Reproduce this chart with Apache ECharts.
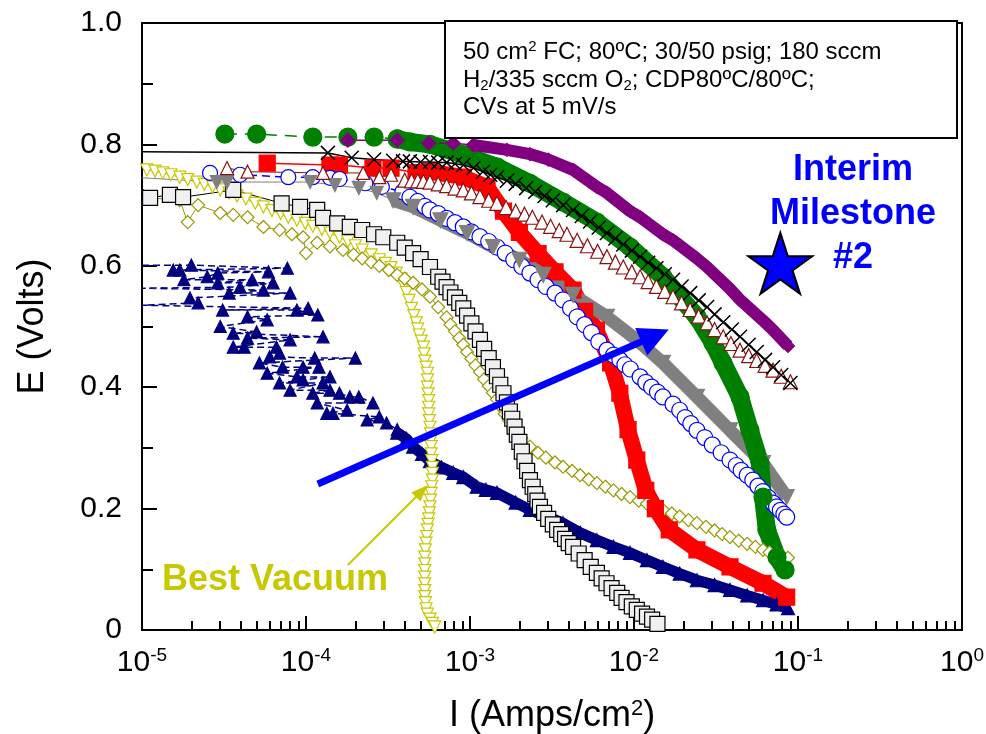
<!DOCTYPE html>
<html><head><meta charset="utf-8">
<script src="https://cdn.jsdelivr.net/npm/echarts@6/dist/echarts.min.js"></script>
<style>html,body{margin:0;padding:0;background:#fff}#c{width:986px;height:734px}</style>
</head><body><div id="c"></div>
<script>
// ---------- DATA: [current density (A/cm2), cell voltage (V)] ----------
const xTickExponents = [-5, -4, -3, -2, -1, 0];
const yTickLabels = ['0', '0.2', '0.4', '0.6', '0.8', '1.0'];

const navyScatter = [
  [1.0e-5,0.601],[1.0e-5,0.563],[1.0e-5,0.535],
  [1.55e-5,0.593],[1.7e-5,0.593],[2.0e-5,0.601],[1.8e-5,0.577],[2.5e-5,0.582],[2.9e-5,0.588],[2.9e-5,0.572],
  [3.4e-5,0.555],[3.96e-5,0.565],[4.7e-5,0.577],[5.9e-5,0.59],[7.7e-5,0.596],[6.3e-5,0.572],[5.5e-5,0.56],
  [8.0e-5,0.555],[1.96e-5,0.547],[2.2e-5,0.539],[3.1e-5,0.527],[4.4e-5,0.516],[5.8e-5,0.511],[8.8e-5,0.527],
  [1.03e-4,0.53],[1.18e-4,0.519],[3.0e-5,0.5],[3.6e-5,0.489],[4.4e-5,0.481],[5.0e-5,0.491],[3.6e-5,0.466],
  [4.2e-5,0.466],[6.6e-5,0.466],[8.0e-5,0.478],[1.27e-4,0.483],[5.2e-5,0.44],[6.0e-5,0.45],[6.9e-5,0.456],
  [7.2e-5,0.433],[9.6e-5,0.433],[1.13e-4,0.448],[1.2e-4,0.433],[2.0e-4,0.448],[5.8e-5,0.423],[6.9e-5,0.407],
  [8.0e-5,0.395],[8.8e-5,0.417],[9.6e-5,0.412],[1.1e-4,0.39],[1.27e-4,0.407],[1.4e-4,0.417],[1.4e-4,0.395],
  [1.6e-4,0.39],[1.85e-4,0.384],[2.1e-4,0.384],[2.56e-4,0.374],[1.17e-4,0.374],[1.34e-4,0.357],[1.46e-4,0.357],
  [1.78e-4,0.362],[2.36e-4,0.346],[2.8e-4,0.351],[3.1e-4,0.341],[3.6e-4,0.33]
];
const navyTail = [
  [3.6e-4,0.325],[4.1e-4,0.315],[4.5e-4,0.302],[5.1e-4,0.29],[5.7e-4,0.278],[6.7e-4,0.268],[7.9e-4,0.259],
  [9.1e-4,0.252],[1.1e-3,0.236],[1.25e-3,0.231],[1.46e-3,0.226],[1.9e-3,0.21],[2.32e-3,0.198],[3.0e-3,0.186],
  [3.69e-3,0.176],[4.7e-3,0.16],[5.94e-3,0.148],[7.5e-3,0.137],[9.46e-3,0.127],[0.012,0.115],[0.015,0.104],
  [0.019,0.093],[0.0242,0.082],[0.031,0.074],[0.0385,0.066],[0.049,0.057],[0.0612,0.049],[0.074,0.042],
  [0.0869,0.036]
];
const yellowTri = [
  [1.07e-5,0.758],[1.2e-5,0.756],[1.34e-5,0.753],[1.5e-5,0.75],[1.7e-5,0.746],[1.9e-5,0.742],[2.16e-5,0.738],
  [2.4e-5,0.734],[2.7e-5,0.73],[3.0e-5,0.725],[3.4e-5,0.72],[3.8e-5,0.715],[4.3e-5,0.71],[4.9e-5,0.703],
  [5.5e-5,0.697],[6.2e-5,0.691],[7.0e-5,0.686],[7.8e-5,0.68],[8.8e-5,0.675],[9.9e-5,0.67],[1.1e-4,0.665],
  [1.25e-4,0.66],[1.4e-4,0.654],[1.6e-4,0.647],[1.8e-4,0.64],[2.0e-4,0.633],[2.2e-4,0.626],[2.5e-4,0.618],
  [2.8e-4,0.61],[3.05e-4,0.604],[3.3e-4,0.597],[3.55e-4,0.588],[3.8e-4,0.578],[3.95e-4,0.567],[4.1e-4,0.556],
  [4.25e-4,0.543],[4.4e-4,0.53],[4.55e-4,0.518],[4.7e-4,0.506],[4.8e-4,0.496],[4.9e-4,0.486],[5.05e-4,0.476],
  [5.2e-4,0.466],[5.25e-4,0.455],[5.3e-4,0.443],[5.4e-4,0.433],[5.5e-4,0.423],[5.5e-4,0.412],[5.5e-4,0.4],
  [5.55e-4,0.389],[5.6e-4,0.378],[5.6e-4,0.367],[5.6e-4,0.356],[5.65e-4,0.345],[5.7e-4,0.334],[5.75e-4,0.323],
  [5.8e-4,0.313],[5.8e-4,0.302],[5.8e-4,0.29],[5.85e-4,0.279],[5.9e-4,0.268],[5.9e-4,0.258],[5.9e-4,0.247],
  [5.85e-4,0.236],[5.8e-4,0.225],[5.75e-4,0.214],[5.7e-4,0.203],[5.65e-4,0.193],[5.6e-4,0.183],[5.55e-4,0.174],
  [5.5e-4,0.165],[5.45e-4,0.154],[5.4e-4,0.143],[5.35e-4,0.132],[5.3e-4,0.12],[5.3e-4,0.109],[5.3e-4,0.098],
  [5.3e-4,0.087],[5.3e-4,0.076],[5.3e-4,0.065],[5.3e-4,0.055],[5.35e-4,0.045],[5.4e-4,0.035],[5.5e-4,0.026],
  [5.7e-4,0.018],[5.9e-4,0.011],[6.1e-4,0.005]
];
const oliveDiamond = [
  [1.1e-5,0.712],[1.7e-5,0.708],[1.9e-5,0.672],[2.2e-5,0.70],[3.0e-5,0.687],[3.6e-5,0.684],[4.4e-5,0.68],
  [5.5e-5,0.664],[6.9e-5,0.659],[8.2e-5,0.652],[9.6e-5,0.647],[1.0e-4,0.621],[1.17e-4,0.638],[1.4e-4,0.632],
  [1.68e-4,0.626],[1.95e-4,0.618],[2.2e-4,0.612],[2.5e-4,0.606],[2.8e-4,0.6],[3.2e-4,0.593],[3.6e-4,0.585],
  [4.0e-4,0.579],[4.5e-4,0.572],[5.1e-4,0.561],[5.7e-4,0.549],[6.4e-4,0.532],[7.2e-4,0.515],[7.6e-4,0.503],
  [8.1e-4,0.492],[8.6e-4,0.481],[9.1e-4,0.47],[9.6e-4,0.458],[1.02e-3,0.447],[1.08e-3,0.436],[1.15e-3,0.425],
  [1.22e-3,0.413],[1.3e-3,0.402],[1.38e-3,0.391],[1.46e-3,0.38],[1.54e-3,0.368],[1.63e-3,0.356],
  [1.73e-3,0.345],[1.83e-3,0.334],[2.05e-3,0.316],[2.32e-3,0.302],[2.6e-3,0.292],[2.9e-3,0.284],
  [3.3e-3,0.276],[3.69e-3,0.269],[4.2e-3,0.262],[4.7e-3,0.255],[5.3e-3,0.248],[5.94e-3,0.242],[6.7e-3,0.236],
  [7.5e-3,0.23],[8.4e-3,0.224],[9.46e-3,0.219],[0.0107,0.213],[0.012,0.208],[0.0134,0.203],[0.015,0.198],
  [0.017,0.192],[0.019,0.187],[0.0215,0.181],[0.0242,0.176],[0.0275,0.17],[0.031,0.164],[0.0345,0.158],
  [0.0385,0.153],[0.0435,0.147],[0.049,0.142],[0.055,0.137],[0.0612,0.132],[0.067,0.128],[0.074,0.125],
  [0.08,0.122],[0.0869,0.119]
];
const squareStart = [1.0e-5,0.728];
const blackSquare = [
  [1.12e-5,0.712],[1.48e-5,0.717],[1.78e-5,0.713],[3.6e-5,0.725],[7.1e-5,0.703],[9.2e-5,0.697],[1.17e-4,0.692],
  [1.27e-4,0.679],[1.55e-4,0.67],[1.85e-4,0.664],[2.2e-4,0.659],[2.6e-4,0.652],[2.96e-4,0.647],[3.6e-4,0.638],
  [4.0e-4,0.63],[4.5e-4,0.621],[5.0e-4,0.611],[5.7e-4,0.598],[6.4e-4,0.582],[6.8e-4,0.574],[7.2e-4,0.565],
  [7.6e-4,0.556],[8.1e-4,0.548],[8.6e-4,0.539],[9.1e-4,0.53],[9.6e-4,0.518],[1.02e-3,0.505],[1.08e-3,0.492],
  [1.15e-3,0.478],[1.22e-3,0.463],[1.3e-3,0.448],[1.38e-3,0.433],[1.46e-3,0.418],[1.53e-3,0.404],[1.6e-3,0.39],
  [1.68e-3,0.375],[1.75e-3,0.36],[1.81e-3,0.348],[1.87e-3,0.335],[1.93e-3,0.322],[2.0e-3,0.31],[2.07e-3,0.294],
  [2.15e-3,0.278],[2.23e-3,0.262],[2.32e-3,0.247],[2.41e-3,0.236],[2.5e-3,0.224],[2.58e-3,0.213],[2.67e-3,0.203],
  [2.83e-3,0.193],[3.0e-3,0.183],[3.2e-3,0.174],[3.4e-3,0.165],[3.6e-3,0.158],[3.8e-3,0.15],[4.0e-3,0.143],
  [4.25e-3,0.137],[4.6e-3,0.126],[5.0e-3,0.115],[5.45e-3,0.104],[5.94e-3,0.094],[6.35e-3,0.085],[6.8e-3,0.077],
  [7.3e-3,0.069],[7.9e-3,0.061],[8.4e-3,0.053],[9.0e-3,0.046],[9.7e-3,0.039],[0.0104,0.033],[0.0112,0.027],
  [0.012,0.022],[0.0129,0.017],[0.0139,0.01]
];
const redHead = [[5.8e-5,0.769],[1.4e-4,0.766],[1.6e-4,0.766],[2.56e-4,0.761],[3.3e-4,0.761],[4.7e-4,0.753]];
const redBody = [
  [4.7e-4,0.753],[5.7e-4,0.755],[9.1e-4,0.746],[1.27e-3,0.73],[1.6e-3,0.69],[2.0e-3,0.655],[2.6e-3,0.62],
  [3.3e-3,0.59],[4.25e-3,0.56],[5.0e-3,0.525],[5.9e-3,0.494],[7.2e-3,0.44],[8.2e-3,0.39],[9.2e-3,0.33],
  [0.0104,0.28],[0.0118,0.23],[0.0135,0.2],[0.0164,0.165],[0.0242,0.132],[0.0385,0.104],[0.0612,0.077],
  [0.0853,0.054]
];
const blueHead = [
  [2.6e-5,0.753],[3.96e-5,0.75],[7.8e-5,0.746],[1.1e-4,0.746],[1.4e-4,0.745],[1.6e-4,0.743],[2.3e-4,0.736],
  [2.9e-4,0.73],[3.9e-4,0.722]
];
const blueBody = [
  [3.9e-4,0.722],[4.3e-4,0.713],[4.8e-4,0.706],[5.3e-4,0.698],[5.7e-4,0.692],[6.4e-4,0.686],[7.2e-4,0.678],
  [8.1e-4,0.671],[9.1e-4,0.664],[1.02e-3,0.656],[1.15e-3,0.648],[1.3e-3,0.64],[1.46e-3,0.631],[1.64e-3,0.621],
  [1.85e-3,0.61],[2.07e-3,0.599],[2.32e-3,0.588],[2.6e-3,0.577],[2.9e-3,0.566],[3.3e-3,0.555],[3.69e-3,0.544],
  [4.1e-3,0.53],[4.5e-3,0.516],[5.0e-3,0.503],[5.5e-3,0.49],[6.1e-3,0.475],[6.84e-3,0.461],[7.5e-3,0.453],
  [8.2e-3,0.445],[8.8e-3,0.437],[9.5e-3,0.43],[0.0109,0.417],[0.0118,0.408],[0.0128,0.4],[0.0139,0.392],
  [0.015,0.384],[0.0173,0.372],[0.019,0.362],[0.0205,0.35],[0.0222,0.34],[0.0242,0.329],[0.027,0.317],
  [0.03,0.305],[0.034,0.292],[0.0385,0.28],[0.042,0.271],[0.045,0.263],[0.049,0.255],[0.053,0.247],
  [0.057,0.237],[0.061,0.228],[0.066,0.218],[0.0705,0.209],[0.074,0.203],[0.078,0.197],[0.082,0.191],
  [0.0853,0.186]
];
const greyStart = [1.0e-5,0.745];
const greyHead = [
  [2.86e-5,0.738],[3.3e-5,0.738],[1.06e-4,0.738],[1.5e-4,0.733],[2.1e-4,0.728],[2.7e-4,0.72],[3.4e-4,0.708]
];
const greyBody = [
  [3.4e-4,0.708],[4.5e-4,0.697],[6.6e-4,0.675],[9.6e-4,0.654],[1.38e-3,0.631],[2.0e-3,0.61],[2.8e-3,0.585],
  [4.25e-3,0.552],[6.84e-3,0.516],[0.0104,0.478],[0.015,0.44],[0.0242,0.384],[0.0385,0.329],[0.0612,0.275],
  [0.0853,0.219]
];
const greenHead = [[3.2e-5,0.817],[5.0e-5,0.817],[1.1e-4,0.812],[1.8e-4,0.812],[2.6e-4,0.812],[3.6e-4,0.809]];
const greenBody = [
  [3.6e-4,0.809],[4.3e-4,0.804],[5.7e-4,0.80],[9.1e-4,0.783],[1.46e-3,0.763],[2.32e-3,0.736],[3.69e-3,0.705],
  [5.94e-3,0.672],[9.46e-3,0.631],[0.015,0.582],[0.019,0.549],[0.0242,0.516],[0.0303,0.473],[0.0349,0.44],
  [0.0443,0.384],[0.0509,0.329],[0.0587,0.275],[0.0612,0.219],[0.0646,0.165],[0.0745,0.12],[0.0834,0.099]
];
const darkRedHead = [[3.3e-5,0.761],[4.4e-5,0.755],[1.27e-4,0.753],[2.23e-4,0.753],[2.8e-4,0.746],[3.3e-4,0.75]];
const darkRedBody = [
  [4.0e-4,0.741],[4.4e-4,0.74],[4.8e-4,0.74],[5.2e-4,0.739],[5.7e-4,0.738],[6.4e-4,0.735],[7.2e-4,0.732],
  [8.1e-4,0.728],[9.1e-4,0.725],[1.02e-3,0.72],[1.15e-3,0.714],[1.3e-3,0.708],[1.46e-3,0.703],[1.66e-3,0.696],
  [1.9e-3,0.69],[2.15e-3,0.685],[2.4e-3,0.68],[2.75e-3,0.672],[3.1e-3,0.665],[3.5e-3,0.658],[3.9e-3,0.652],
  [4.5e-3,0.642],[5.2e-3,0.633],[6.0e-3,0.624],[6.84e-3,0.615],[7.7e-3,0.606],[8.6e-3,0.598],[9.7e-3,0.59],
  [0.0109,0.582],[0.0122,0.574],[0.0137,0.566],[0.0154,0.558],[0.0173,0.549],[0.0195,0.539],[0.022,0.528],
  [0.0248,0.517],[0.0279,0.506],[0.031,0.495],[0.035,0.483],[0.039,0.472],[0.0443,0.461],[0.05,0.452],
  [0.056,0.444],[0.063,0.436],[0.0705,0.428],[0.079,0.418],[0.0899,0.409]
];
const crossStart = [1.0e-5,0.788];
const blackCross = [
  [1.36e-4,0.786],[1.9e-4,0.778],[2.6e-4,0.775],[3.4e-4,0.773],[3.9e-4,0.772],[4.3e-4,0.772],[5.0e-4,0.771],
  [5.7e-4,0.771],[6.4e-4,0.77],[7.2e-4,0.77],[8.1e-4,0.768],[9.1e-4,0.766],[1.05e-3,0.761],[1.2e-3,0.755],
  [1.33e-3,0.75],[1.46e-3,0.746],[1.68e-3,0.74],[1.9e-3,0.735],[2.2e-3,0.728],[2.5e-3,0.722],[2.85e-3,0.715],
  [3.2e-3,0.708],[3.7e-3,0.7],[4.25e-3,0.692],[4.8e-3,0.682],[5.4e-3,0.673],[6.1e-3,0.663],[6.84e-3,0.654],
  [7.7e-3,0.645],[8.6e-3,0.635],[9.7e-3,0.625],[0.0109,0.615],[0.0122,0.605],[0.0137,0.596],[0.0154,0.586],
  [0.0173,0.577],[0.0195,0.566],[0.022,0.555],[0.0248,0.543],[0.0279,0.532],[0.031,0.52],[0.035,0.507],
  [0.0395,0.495],[0.0443,0.483],[0.05,0.47],[0.056,0.458],[0.063,0.445],[0.0705,0.433],[0.079,0.42],
  [0.0899,0.407]
];
const purpleHead = [[1.8e-4,0.807],[3.6e-4,0.807],[5.6e-4,0.802],[7.9e-4,0.802],[1.05e-3,0.799]];
const purpleBody = [
  [1.05e-3,0.799],[1.68e-3,0.791],[2.32e-3,0.784],[3.0e-3,0.775],[4.25e-3,0.758],[5.94e-3,0.73],[6.84e-3,0.72],
  [9.46e-3,0.69],[0.0109,0.68],[0.015,0.652],[0.0173,0.642],[0.0242,0.612],[0.0279,0.598],[0.0385,0.562],
  [0.0443,0.544],[0.0612,0.51],[0.0705,0.494],[0.0869,0.468]
];
const milestone = [[0.078, 0.604]];
const trendArrow = [[1.18e-4, 0.2405], [0.01343, 0.485]];
const vacuumArrow = [[1.8e-4, 0.107], [5.09e-4, 0.229]];

// ---------- CHART ----------
const FONT = '"Liberation Sans", Arial, sans-serif';
const starPath = 'path://M50,0 L61.23,34.55 L97.55,34.55 L68.17,55.9 L79.39,90.45 L50,69.1 L20.61,90.45 L31.83,55.9 L2.45,34.55 L38.77,34.55 Z';
const crossPath = 'path://M0,0 L10,10 M10,0 L0,10';

function pts(name, data, sym, size, color, fill, opts) {
  return Object.assign({
    name, type: 'line', data, symbol: sym, symbolSize: size, showSymbol: true, showAllSymbol: true,
    itemStyle: { color: fill, borderColor: color, borderWidth: 1.2, opacity: 1 },
    lineStyle: { color: color, width: 1 },
    emphasis: { disabled: true }, animation: false
  }, opts || {});
}

const series = [
  pts('navyScatter', navyScatter.slice().sort((a, b) => b[1] - a[1]).map(p => p[0] === 1e-5 ? { value: p, symbol: 'none' } : p),
      'triangle', 12, '#000080', '#000080', { lineStyle: { color: '#000080', width: 1.5, type: [7, 4] } }),
  pts('navyTail', navyTail, 'triangle', 13, '#000080', '#000080', { lineStyle: { color: '#000080', width: 11 } }),
  pts('yellow', yellowTri, 'triangle', 12, '#c8c800', '#fff', { symbolRotate: 180, lineStyle: { color: '#c8c800', width: 1 } }),
  pts('olive', oliveDiamond, 'diamond', 13, '#999900', '#fff', { lineStyle: { color: '#999900', width: 1 } }),
  pts('squares', [{ value: squareStart, symbol: 'none' }].concat(blackSquare), 'rect', 15, '#000', '#f0f0f0', { lineStyle: { color: '#000', width: 1 } }),
  pts('redHead', redHead, 'rect', 16, '#ff0000', '#ff0000', { lineStyle: { color: '#ff0000', width: 1.5 } }),
  pts('redBody', redBody, 'rect', 16, '#ff0000', '#ff0000', { lineStyle: { color: '#ff0000', width: 16 } }),
  pts('blueHead', blueHead, 'circle', 15, '#0000ff', '#fff', { lineStyle: { color: '#0000ff', width: 1.5, type: [8, 5] } }),
  pts('blueBody', blueBody, 'circle', 16, '#0000ff', '#fff', { lineStyle: { color: '#0000ff', width: 1 } }),
  pts('greyHead', [{ value: greyStart, symbol: 'none' }].concat(greyHead), 'triangle', 13, '#808080', '#808080', { symbolRotate: 180, lineStyle: { color: '#808080', width: 1 } }),
  pts('greyBody', greyBody, 'triangle', 15, '#808080', '#808080', { symbolRotate: 180, lineStyle: { color: '#808080', width: 13 } }),
  pts('greenHead', greenHead, 'circle', 18, '#008000', '#008000', { lineStyle: { color: '#008000', width: 1.5, type: [12, 8] } }),
  pts('greenBody', greenBody, 'circle', 18, '#008000', '#008000', { lineStyle: { color: '#008000', width: 18 } }),
  pts('darkRedHead', darkRedHead, 'triangle', 13, '#8b1010', '#fff', { lineStyle: { color: '#8b1010', width: 1 } }),
  pts('darkRedBody', darkRedBody, 'triangle', 14, '#8b1010', '#fff', { lineStyle: { color: '#8b1010', width: 1 } }),
  pts('cross', [{ value: crossStart, symbol: 'none' }].concat(blackCross), crossPath, 14, '#000', 'none', { itemStyle: { color: 'none', borderColor: '#000', borderWidth: 1.5 }, lineStyle: { color: '#000', width: 1.5 } }),
  pts('purpleHead', purpleHead, 'diamond', 14, '#800080', '#800080', { lineStyle: { color: '#800080', width: 1.5 } }),
  pts('purpleBody', purpleBody, 'diamond', 13, '#800080', '#800080', { lineStyle: { color: '#800080', width: 12 } }),
  {
    type: 'line', data: [], silent: true, animation: false,
    markLine: {
      silent: true, animation: false, symbol: ['none', 'triangle'], symbolSize: [30, 30], label: { show: false },
      lineStyle: { color: '#0000ff', width: 7, type: 'solid' },
      data: [[{ coord: trendArrow[0] }, { coord: trendArrow[1] }]]
    }
  },
  {
    type: 'line', data: [], silent: true, animation: false,
    markLine: {
      silent: true, animation: false, symbol: ['none', 'triangle'], symbolSize: [13, 17], label: { show: false },
      lineStyle: { color: '#c8c800', width: 2, type: 'solid' },
      data: [[{ coord: vacuumArrow[0] }, { coord: vacuumArrow[1] }]]
    }
  },
  {
    type: 'scatter', data: milestone, symbol: starPath, symbolSize: [64, 61], animation: false,
    itemStyle: { color: '#0000ff', borderColor: '#000', borderWidth: 2, opacity: 1 }, emphasis: { disabled: true }
  }
];

const chart = echarts.init(document.getElementById('c'));
chart.setOption({
  animation: false,
  grid: { left: 142, top: 23, right: 24, bottom: 104, outerBoundsMode: 'none', show: true, borderColor: '#000', borderWidth: 2 },
  xAxis: {
    type: 'log', min: 1e-5, max: 1,
    name: 'I (Amps/cm{s|2})', nameLocation: 'middle', nameGap: 68,
    nameTextStyle: { fontFamily: FONT, fontSize: 36, color: '#000', rich: { s: { fontFamily: FONT, fontSize: 22, verticalAlign: 'top', lineHeight: 22, color: '#000' } } },
    axisLine: { lineStyle: { color: '#000', width: 2 } },
    axisTick: { show: true, inside: true, length: 14, lineStyle: { color: '#000', width: 2 } },
    minorTick: { show: true, splitNumber: 9, length: 9, lineStyle: { color: '#000', width: 2 } },
    splitLine: { show: false },
    axisLabel: {
      margin: 16, color: '#000',
      formatter: function (v) {
        const e = Math.round(Math.log10(v));
        return xTickExponents.indexOf(e) >= 0 ? '{b|10}{s|' + e + '}' : '';
      },
      rich: {
        b: { fontFamily: FONT, fontSize: 30, lineHeight: 34, color: '#000' },
        s: { fontFamily: FONT, fontSize: 19, lineHeight: 19, verticalAlign: 'top', color: '#000' }
      }
    }
  },
  yAxis: {
    type: 'value', min: 0, max: 1, interval: 0.2,
    name: 'E (Volts)', nameLocation: 'middle', nameGap: 91, nameRotate: 90,
    nameTextStyle: { fontFamily: FONT, fontSize: 36, color: '#000' },
    axisLine: { lineStyle: { color: '#000', width: 2 } },
    axisTick: { inside: true, length: 15, lineStyle: { color: '#000', width: 2 } },
    minorTick: { show: true, splitNumber: 2, length: 11, lineStyle: { color: '#000', width: 2 } },
    splitLine: { show: false },
    axisLabel: {
      margin: 20, color: '#000', fontFamily: FONT, fontSize: 30,
      formatter: function (v) { return yTickLabels[Math.round(v / 0.2)]; }
    }
  },
  series: series,
  graphic: [
    { type: 'rect', shape: { x: 445, y: 21, width: 512, height: 117 }, style: { fill: '#fff', stroke: '#000', lineWidth: 2 }, z: 100 },
    { type: 'text', x: 463, y: 52, z: 101, style: { text: '50 cm{sup|2} FC; 80ºC; 30/50 psig; 180 sccm', verticalAlign: 'middle', font: '24px ' + FONT, fill: '#000', lineHeight: 26, rich: { sup: { fontSize: 15, lineHeight: 15, verticalAlign: 'top', fontFamily: FONT } } } },
    { type: 'text', x: 463, y: 80, z: 101, style: { text: 'H{sub|2}/335 sccm O{sub|2}; CDP80ºC/80ºC;', verticalAlign: 'middle', font: '24px ' + FONT, fill: '#000', lineHeight: 26, rich: { sub: { fontSize: 15, lineHeight: 15, verticalAlign: 'bottom', fontFamily: FONT } } } },
    { type: 'text', x: 463, y: 107, z: 101, style: { text: 'CVs at 5 mV/s', verticalAlign: 'middle', font: '24px ' + FONT, fill: '#000' } },
    { type: 'text', x: 853, y: 148, z: 101, style: { text: 'Interim\nMilestone\n#2', align: 'center', verticalAlign: 'top', font: 'bold 36px ' + FONT, lineHeight: 44, fill: '#0000ff' } },
    { type: 'text', x: 162, y: 580, z: 101, style: { text: 'Best Vacuum', verticalAlign: 'middle', font: 'bold 36px ' + FONT, fill: '#c8c800' } }
  ]
});
</script>
</body></html>
